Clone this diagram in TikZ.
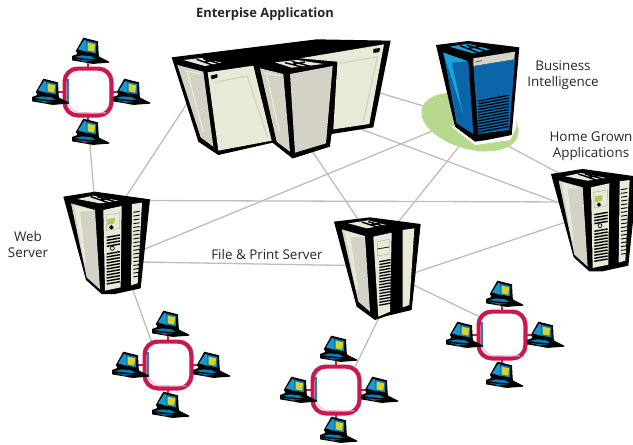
\documentclass[tikz,border=0pt]{standalone}
\usepackage{fontspec}
\setmainfont{Open Sans}
\definecolor{lnk}{HTML}{BDBDBD}
\definecolor{lite}{HTML}{E9E9D8}
\definecolor{grayface}{HTML}{D4D1C6}
\definecolor{ringred}{HTML}{C9184F}
\definecolor{pcblue}{HTML}{0A7DB5}
\definecolor{pcyel}{HTML}{D3D52E}
\definecolor{biblue}{HTML}{0A66A8}
\definecolor{bicyan}{HTML}{1BA3DA}
\definecolor{ellgreen}{HTML}{B8D88E}
\definecolor{lcd}{HTML}{A9C95A}
\tikzset{
  x=1pt,y=-1pt,
  link/.style={draw=lnk,line width=1.3pt},
  lbl/.style={font=\fontsize{13.4}{16}\selectfont,text=black!85,align=center,inner sep=0pt},
  lblb/.style={font=\fontsize{12.9}{15}\selectfont\bfseries,text=black!85,align=center,inner sep=0pt},
  pc/.pic={
    \begin{scope}[scale=1/3]
      \fill[pcyel] (-14,26)--(32,26)--(8,38)--cycle;
      \fill[black] (-36,-4)--(-14,-43)--(30,-32)--(32,7)--(34,14)--(64,29)--(64,32)--(22,35)--(18,36)--(-48,25)--(-48,12)--(-32,6)--cycle;
      \fill[bicyan!70!pcblue] (-30,-8)--(-11,-37)--(-5,-34)--(-6,-1)--cycle;
      \fill[pcblue] (-5,-34)--(25,-27)--(24,4)--(-6,-1)--cycle;
      \fill[pcyel] (-1,-28)--(21,-23)--(19,-1)--(-1,-5)--cycle;
      \fill[pcblue] (-41,15)--(-18,10)--(10,13)--(22,21)--(-8,20)--cycle;
      \fill[pcblue] (-41,20)--(-6,25)--(16,25)--(-8,29)--cycle;
    \end{scope}
  },
  cluster/.pic={
    \draw[ringred,line width=2.6pt] (0,-32)--(0,-24);
    \draw[ringred,line width=2.6pt] (0,24)--(0,32);
    \draw[ringred,line width=2.6pt] (-32,0)--(-24,0);
    \draw[ringred,line width=2.6pt] (24,0)--(32,0);
    \draw[ringred,fill=white,line width=4.2pt,rounded corners=13pt] (-23.4,-23.4) rectangle (23.4,23.4);
    \fill[pcblue!75!gray] (-21.4,-13) rectangle (-19.4,11);
    \draw[ringred!30,line width=1pt,rounded corners=5pt] (-20,12)--(-13,20.7)--(18,20.8);
    \pic at (0,-40) {pc};
    \pic at (-40,1) {pc};
    \pic at (41,1) {pc};
    \pic at (0,41) {pc};
  },
  tower/.pic={
    \begin{scope}[scale=1/3]
      \fill[black] (40,50)--(135,35)--(300,58)--(272,325)--(195,342)--(155,342)--(108,300)--cycle;
      \fill[lite] (82,57)--(130,47)--(205,62)--(150,70)--cycle;
      \draw[black,line width=1.4pt] (122,50)--(175,68) (142,50)--(195,65) (150,60)--(190,53);
      \fill[grayface] (63,70)--(135,90)--(150,328)--(110,292)--cycle;
      \fill[lite] (72,75)--(130,92)--(90,95)--(108,250)--(103,250)--cycle;
      \fill[lite] (160,90)--(215,78)--(212,322)--(165,332)--cycle;
      \draw[gray!60,line width=.5pt] (168,105)--(210,98)--(208,145)--(170,152)--cycle;
      \fill[lcd] (172,118)--(195,113)--(193,130)--(172,135)--cycle;
      \fill[black] (184,135)--(191,142)--(184,149)--(177,142)--cycle;
      \foreach \i in {0,...,3}{\draw[black,line width=1.4pt] (170,{172+9*\i})--(210,{165+9*\i});}
      \draw[black,line width=.7pt] (187,205) circle (6);
      \foreach \i in {0,...,10}{\draw[black,line width=1.4pt] (170,{222+9*\i})--(210,{215+9*\i});}
      \fill[lite] (246,72)--(276,68)--(263,310)--(243,316)--cycle;
      \foreach \i in {0,...,17}{\draw[black,line width=.9pt] (250,{97+11.4*\i})--(269,{94+11.4*\i});}
    \end{scope}
  },
  filetower/.pic={
    \begin{scope}[scale=1/3]
      \fill[black] (42,35)--(150,22)--(302,42)--(275,300)--(200,318)--(165,330)--(110,290)--cycle;
      \fill[lite] (85,40)--(145,31)--(198,45)--(140,55)--cycle;
      \draw[black,line width=1.4pt] (125,36)--(175,52) (145,35)--(192,49) (150,45)--(180,40);
      \fill[grayface] (65,58)--(135,78)--(150,305)--(115,275)--cycle;
      \fill[lite] (74,62)--(130,80)--(92,82)--(114,240)--(108,240)--cycle;
      \fill[lite] (160,80)--(215,68)--(210,305)--(175,320)--cycle;
      \draw[gray!60,line width=.5pt] (172,95)--(208,88)--(207,132)--(172,138)--cycle;
      \draw[black,line width=.7pt] (172,117)--(208,111);
      \foreach \i in {0,...,15}{\draw[black,line width=1.3pt] (178,{155+8.7*\i})--(212,{149+8.7*\i});}
      \fill[lite] (248,60)--(283,55)--(268,285)--(248,292)--cycle;
    \end{scope}
  },
  bitower/.pic={
    \begin{scope}[scale=1/3]
      \fill[white] (125,290)--(195,345)--(300,330)--(320,290)--(300,200)--cycle;
      \fill[black] (78,45)--(175,33)--(328,52)--(305,315)--(230,330)--(195,335)--(135,290)--cycle;
      \fill[bicyan] (118,50)--(175,41)--(240,58)--(190,70)--cycle;
      \draw[black,line width=1.4pt] (150,47)--(205,68) (170,45)--(225,62) (170,56)--(215,48);
      \fill[biblue] (100,68)--(175,95)--(190,312)--(140,280)--cycle;
      \fill[bicyan] (100,68)--(172,93)--(125,98)--(160,255)--cycle;
      \fill[biblue] (190,108)--(315,88)--(298,300)--(205,312)--cycle;
      \fill[lite!80!gray] (190,85)--(315,65)--(313,88)--(190,108)--cycle;
      \draw[ringred,line width=.7pt] (196,96)--(216,92);
      \foreach \i in {0,...,11}{\draw[black,line width=1.2pt] (205,{213+8.5*\i})--(296,{196+8.5*\i});}
    \end{scope}
  }
}
\begin{document}
\begin{tikzpicture}
\useasboundingbox (0,0) rectangle (633,445);
% attachment points
\coordinate (clA) at (90,145);
\coordinate (clB) at (152,343);
\coordinate (clC) at (355,367);
\coordinate (clD) at (480,317);
\coordinate (webA) at (94.5,200);
\coordinate (webB) at (120,205.7);
\coordinate (webC) at (140,200.5);
\coordinate (webD) at (140,251);
\coordinate (webE) at (140,262);
\coordinate (webF) at (125,268);
\coordinate (entA) at (195,91.3);
\coordinate (entB) at (310,148);
\coordinate (entC) at (370,90);
\coordinate (entD) at (350,125);
\coordinate (biA) at (450,123.8);
\coordinate (biB) at (440,111);
\coordinate (biC) at (495,139);
\coordinate (biD) at (470,133);
\coordinate (homeA) at (570,202);
\coordinate (homeB) at (570,207);
\coordinate (homeC) at (570,179);
\coordinate (homeD) at (575,219);
\coordinate (fileA) at (350,265.5);
\coordinate (fileB) at (360,222);
\coordinate (fileC) at (395,226);
\coordinate (fileD) at (405,276);
\coordinate (fileE) at (405,281);
\coordinate (fileF) at (381,313.5);
\draw[link] (clA)--(webA);
\draw[link] (webB)--(entA);
\draw[link] (webC)--(homeA);
\draw[link] (webD)--(biA);
\draw[link] (webE)--(fileA);
\draw[link] (webF)--(clB);
\draw[link] (entB)--(fileB);
\draw[link] (entC)--(biB);
\draw[link] (entD)--(homeB);
\draw[link] (biC)--(homeC);
\draw[link] (biD)--(fileC);
\draw[link] (fileD)--(homeD);
\draw[link] (fileE)--(clD);
\draw[link] (fileF)--(clC);
% clusters
\pic (c1) at (88,92) {cluster};
\pic (c2) at (168,365) {cluster};
\pic (c3) at (336,390) {cluster};
\pic (c4) at (502,335) {cluster};
% enterprise servers
\begin{scope}[shift={(160,0)},scale=1/3]
  \fill[black] (35,172)--(470,118)--(692,122)--(640,382)--(515,402)--(508,438)--(398,475)--(338,428)--(175,465)--(115,425)--cycle;
  \fill[lite] (420,175)--(672,133)--(628,372)--(520,388)--(532,185)--cycle;
  \draw[grayface,line width=1.2pt] (540,190)--(652,170)--(610,365);
  \fill[black] (640,147)--(660,144)--(658,156)--(640,159)--cycle;
  \fill[grayface] (52,195)--(130,215)--(160,440)--(122,412)--cycle;
  \draw[lite,line width=1.2pt] (75,212)--(125,222) (82,218)--(130,395);
  \fill[lite] (143,217)--(280,197)--(335,422)--(175,452)--cycle;
  \draw[grayface,line width=1.2pt] (160,248)--(262,228)--(322,410);
  \fill[black] (152,227)--(172,222)--(172,233)--(155,238)--cycle;
  \fill[lite] (70,180)--(125,174)--(185,188)--(135,198)--cycle;
  \draw[black,line width=1.4pt] (110,178)--(160,196) (130,176)--(180,192) (135,185)--(172,179);
  \fill[black] (295,195)--(400,175)--(532,190)--(510,440)--(398,475)--(338,428)--cycle;
  \fill[grayface] (300,205)--(370,222)--(390,455)--(350,425)--cycle;
  \draw[lite,line width=1.2pt] (312,218)--(362,228) (320,224)--(358,395);
  \fill[grayface] (390,222)--(518,198)--(498,430)--(405,458)--cycle;
  \fill[lite] (345,187)--(412,180)--(490,192)--(395,203)--cycle;
  \draw[black,line width=1.4pt] (375,188)--(430,202) (395,184)--(450,199) (400,192)--(435,186);
\end{scope}
% business intelligence
\fill[ellgreen,rotate around={-16:(470,122)}] (470,122) ellipse (50 and 27);
\pic (bi) at (410,30) {bitower};
% towers
\pic (web) at (50,180) {tower};
\pic (file) at (320,210) {filetower};
\begin{scope}
  \clip (0,0) rectangle (633,445);
  \pic (home) at (537.67,157.3) {tower};
\end{scope}
% labels
\node[lblb] (tEnt) at (265,14) {Enterpise Application};
\node[lbl] (tBi) at (563,75) {Business\\Intelligence};
\node[lbl] (tHome) at (591,146) {Home Grown\\Applications};
\node[lbl] (tWeb) at (28,244) {Web\\Server};
\node[lbl] (tFile) at (267,254) {File \& Print Server};
\end{tikzpicture}
\end{document}
